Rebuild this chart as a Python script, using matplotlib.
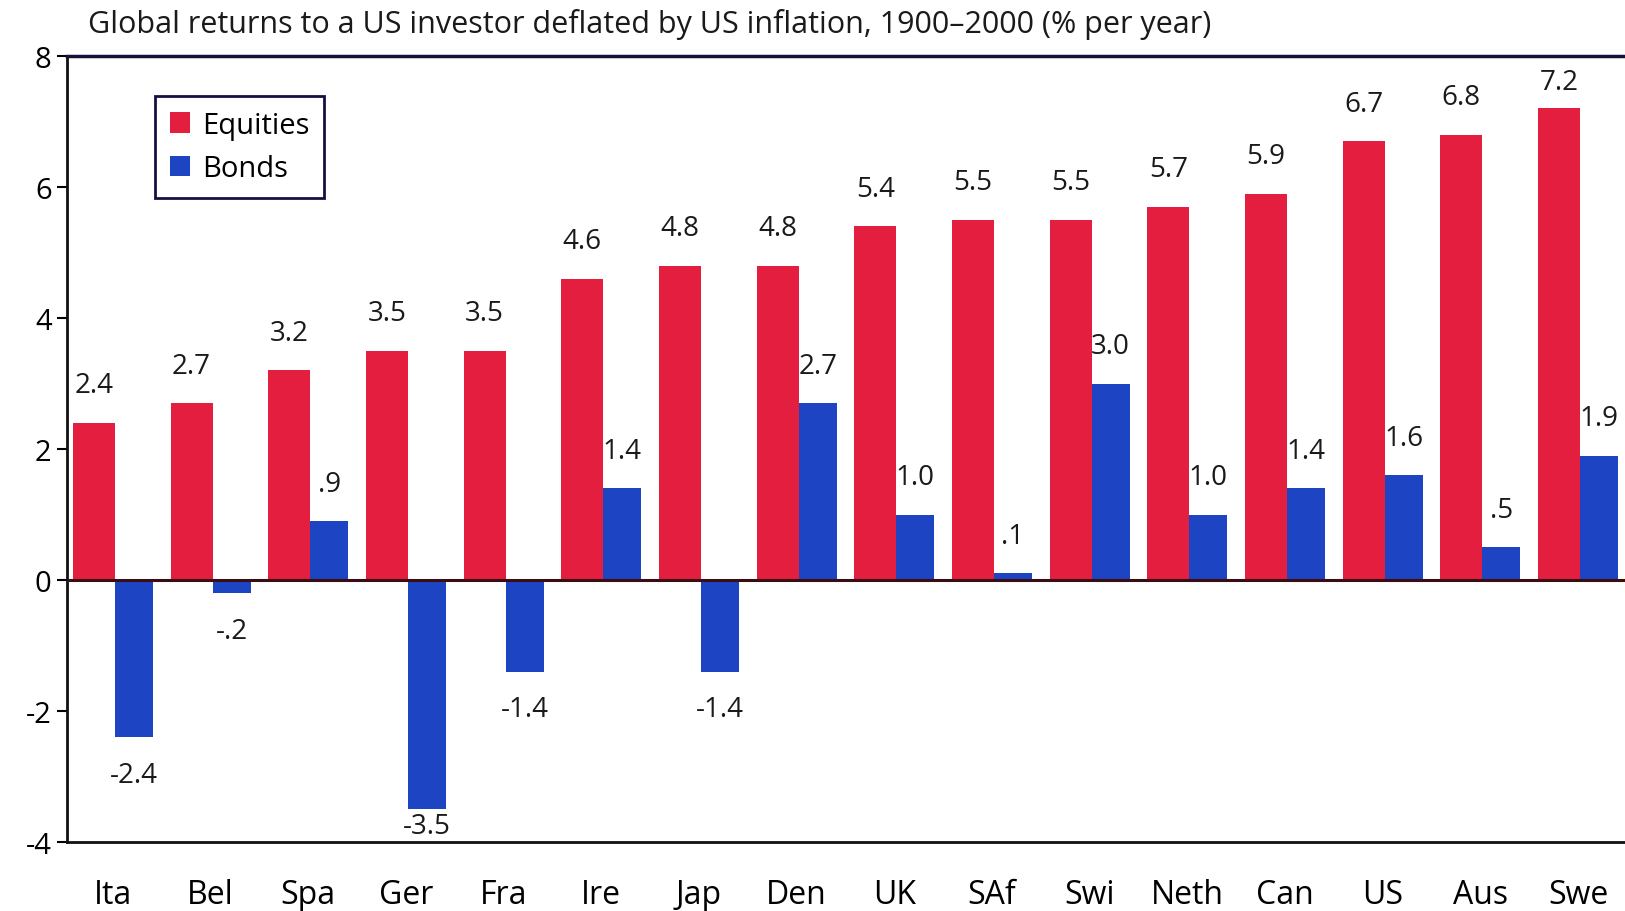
import numpy as np
import matplotlib
matplotlib.use('Agg')
import matplotlib.pyplot as plt

plt.rcParams['font.family'] = ['Open Sans', 'DejaVu Sans']
plt.rcParams['axes.unicode_minus'] = False

# 1900-2000 real returns, % per year
countries = ['Ita', 'Bel', 'Spa', 'Ger', 'Fra', 'Ire', 'Jap', 'Den',
             'UK', 'SAf', 'Swi', 'Neth', 'Can', 'US', 'Aus', 'Swe']
equities = [2.4, 2.7, 3.2, 3.5, 3.5, 4.6, 4.8, 4.8,
            5.4, 5.5, 5.5, 5.7, 5.9, 6.7, 6.8, 7.2]
bonds = [-2.4, -0.2, 0.9, -3.5, -1.4, 1.4, -1.4, 2.7,
         1.0, 0.1, 3.0, 1.0, 1.4, 1.6, 0.5, 1.9]

red = '#e41e3f'
blue = '#1d44c2'
w_eq = 0.43
w_bd = 0.39


def fmt(v):
    s = '{:.1f}'.format(v)
    return s.replace('-0.', '-.') if s.startswith('-0.') else (s[1:] if s.startswith('0.') else s)


fig = plt.figure(figsize=(16.25, 9.12), dpi=100)
ax = fig.add_axes([67/1625, 69/912, 1 - 67/1625, 786/912])

x = np.arange(len(countries))
b1 = ax.bar(x, equities, width=w_eq, align='edge', color=red, label='Equities')
b2 = ax.bar(x + w_eq, bonds, width=w_bd, align='edge', color=blue, label='Bonds')

# value labels above / below each bar (squeezed near the frame)
for bars, vals in [(b1, equities), (b2, bonds)]:
    for r, v in zip(bars, vals):
        cx = r.get_x() + r.get_width() / 2
        off = 27 if v >= 0 else -27
        if v > 7:
            off = 19
        if v < -3:
            off = -12
        ax.annotate(fmt(v), xy=(cx, v), xytext=(0, off), textcoords='offset points',
                    ha='center', va='center', fontsize=20, color='#1a1a1a')

ax.axhline(0, color='#3a0c14', lw=2.2, zorder=3)
ax.set_ylim(-4, 8)
ax.set_xlim(-0.06, 15.89)
ax.set_yticks([-4, -2, 0, 2, 4, 6, 8])
ax.set_xticks(x + (w_eq + w_bd) / 2)
ax.set_xticklabels(countries)
ax.tick_params(axis='y', direction='out', length=7, width=1.5, pad=4, labelsize=21)
ax.tick_params(axis='x', length=0, pad=26, labelsize=23)

for s in ['left', 'bottom']:
    ax.spines[s].set_color('#111111')
    ax.spines[s].set_linewidth(2)
ax.spines['top'].set_color('#14123a')
ax.spines['top'].set_linewidth(2.5)
ax.spines['right'].set_visible(False)

leg = ax.legend(loc='upper left', bbox_to_anchor=(155/1625, 1 - 97/912),
                bbox_transform=fig.transFigure, borderaxespad=0, fancybox=False,
                fontsize=21, handlelength=0.7, handleheight=0.7, handletextpad=0.4,
                labelspacing=0.5, borderpad=0.5, framealpha=1)
leg.get_frame().set_edgecolor('#141040')
leg.get_frame().set_linewidth(2)

fig.text(88/1625, 1 - 24/912,
         'Global returns to a US investor deflated by US inflation, 1900\u20132000 (% per year)',
         ha='left', va='center', fontsize=22, color='#1a1a1a')

fig.savefig('out.png', dpi=100)
